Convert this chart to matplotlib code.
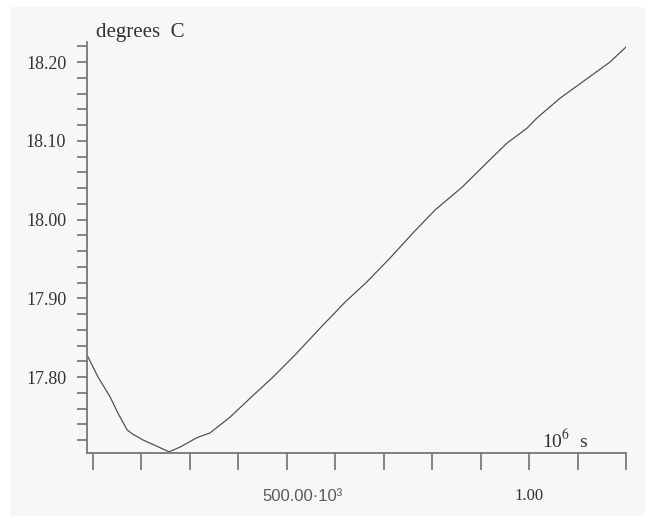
import numpy as np
import matplotlib
matplotlib.use("Agg")
import matplotlib.pyplot as plt
from matplotlib.patches import Rectangle
from matplotlib.ticker import MultipleLocator, FixedLocator, NullFormatter

plt.rcParams['mathtext.fontset'] = 'stix'

# time in 10^6 s, temperature in degrees C
time_ms = [0.0876, 0.1103, 0.1351, 0.1516, 0.1702, 0.1805, 0.2032, 0.2321,
           0.2569, 0.2796, 0.3147, 0.3415, 0.3828, 0.4034, 0.4241, 0.4716,
           0.5170, 0.5686, 0.6202, 0.6656, 0.7130, 0.7605, 0.8059, 0.8617,
           0.9194, 0.9545, 0.9958, 1.0165, 1.0639, 1.1155, 1.1671, 1.2001]
temp_c = [17.828, 17.800, 17.775, 17.754, 17.733, 17.728, 17.720, 17.712,
          17.705, 17.711, 17.723, 17.729, 17.749, 17.761, 17.773, 17.800,
          17.828, 17.862, 17.895, 17.921, 17.951, 17.983, 18.012, 18.041,
          18.076, 18.097, 18.116, 18.129, 18.154, 18.177, 18.200, 18.219]

x_ticks = [0.1, 0.2, 0.3, 0.4, 0.5, 0.6, 0.7, 0.8, 0.9, 1.0, 1.1, 1.2]
y_major = [17.80, 17.90, 18.00, 18.10, 18.20]
y_labels = ["17.80", "17.90", "18.00", "18.10", "18.20"]

W, H = 645, 516
fig = plt.figure(figsize=(W / 100, H / 100), dpi=100)
fig.patch.set_facecolor('white')
# light grey panel behind everything
fig.patches.append(Rectangle((10 / W, 0), 1, 1 - 7 / H, transform=fig.transFigure,
                             facecolor='#f7f7f7', edgecolor='none', zorder=-10))

ax = fig.add_axes([87 / W, 1 - 453 / H, (626 - 87) / W, (453 - 42) / H])
ax.patch.set_visible(False)

ax.plot(time_ms, temp_c, color='#4a4a4a', lw=0.85)

ax.set_xlim(0.0876, 1.2001)
ax.set_ylim(17.7035, 18.2254)

for s in ['top', 'right']:
    ax.spines[s].set_visible(False)
for s in ['left', 'bottom']:
    ax.spines[s].set_color('#777777')
    ax.spines[s].set_linewidth(1.3)

ax.xaxis.set_major_locator(FixedLocator(x_ticks))
ax.xaxis.set_major_formatter(NullFormatter())
ax.tick_params(axis='x', direction='out', length=12, width=1.1, color='#666666')

ax.yaxis.set_major_locator(FixedLocator(y_major))
ax.set_yticklabels(y_labels, family='Liberation Serif', fontsize=13, color='#333333')
ax.yaxis.set_minor_locator(MultipleLocator(0.02))
ax.tick_params(axis='y', which='both', direction='out', length=7, width=1.1,
               color='#666666', pad=8)

# tick labels on the time axis
ax.text(0.5315, -0.105, "500.00\u00b710\u00b3", transform=ax.get_xaxis_transform(),
        ha='center', va='center', family='Liberation Sans', fontsize=12, color='#5a5a5a')
ax.text(1.0, -0.105, "1.00", transform=ax.get_xaxis_transform(),
        ha='center', va='center', family='Liberation Serif', fontsize=12, color='#333333')

# axis titles
fig.text(96 / W, 1 - 33 / H, "degrees  C", ha='left', va='center',
         family='Liberation Serif', fontsize=15, color='#333333')
fig.text(542 / W, 1 - 440 / H, "10$^{6}$  s", ha='left', va='center',
         family='Liberation Serif', fontsize=14, color='#333333')

fig.savefig('out.png', dpi=100, facecolor=fig.get_facecolor())
